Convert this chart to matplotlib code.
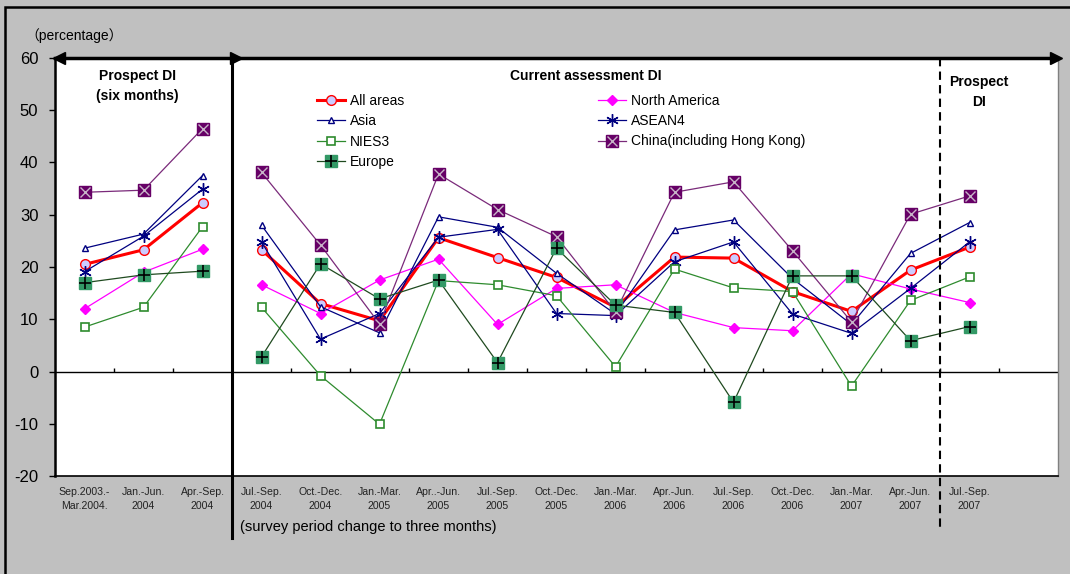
import numpy as np
import matplotlib
matplotlib.use("Agg")
import matplotlib.pyplot as plt
import matplotlib.patches as patches
from matplotlib.legend_handler import HandlerTuple

plt.rcParams['font.family'] = ['Liberation Sans', 'Noto Sans CJK JP', 'DejaVu Sans']
plt.rcParams['axes.unicode_minus'] = False

# survey periods (x categories)
periods = ["Sep.2003.-\nMar.2004.", "Jan.-Jun.\n2004", "Apr.-Sep.\n2004",
           "Jul.-Sep.\n2004", "Oct.-Dec.\n2004", "Jan.-Mar.\n2005", "Apr..-Jun.\n2005",
           "Jul.-Sep.\n2005", "Oct.-Dec.\n2005", "Jan.-Mar.\n2006", "Apr.-Jun.\n2006",
           "Jul.-Sep.\n2006", "Oct.-Dec.\n2006", "Jan.-Mar.\n2007", "Apr.-Jun.\n2007",
           "Jul.-Sep.\n2007"]

all_areas = [20.5, 23.3, 32.3, 23.3, 13.0, 9.7, 25.6, 21.8, 18.0, 12.3, 21.9, 21.7, 15.3, 11.5, 19.4, 23.8]
north_america = [12.0, 19.0, 23.4, 16.6, 11.1, 17.5, 21.5, 9.0, 15.9, 16.6, 11.3, 8.4, 7.8, 18.7, 15.8, 13.2]
asia = [23.6, 26.3, 37.5, 28.0, 12.4, 7.4, 29.6, 27.6, 18.8, 11.0, 27.1, 29.0, 17.8, 9.0, 22.6, 28.5]
asean4 = [19.1, 25.9, 34.9, 24.8, 6.2, 11.1, 25.7, 27.2, 11.1, 10.7, 21.0, 24.8, 11.0, 7.3, 15.9, 24.8]
nies3 = [8.5, 12.3, 27.7, 12.3, -0.8, -10.1, 17.4, 16.6, 14.5, 0.9, 19.6, 16.0, 15.3, -2.8, 13.6, 18.1]
china = [34.3, 34.7, 46.5, 38.1, 24.2, 9.1, 37.8, 31.0, 25.8, 11.4, 34.3, 36.3, 23.1, 9.5, 30.1, 33.6]
europe = [17.0, 18.5, 19.2, 2.8, 20.6, 13.9, 17.5, 1.7, 23.6, 12.7, 11.3, -5.9, 18.3, 18.3, 5.9, 8.6]

W, H = 1070, 574
fig = plt.figure(figsize=(W / 100, H / 100), dpi=100)
fig.patch.set_facecolor('#C0C0C0')
fig.patches.append(patches.Rectangle((5 / W, -0.1), 1.2, 1.1 - 7 / H, transform=fig.transFigure,
                                     fill=False, edgecolor='black', lw=1.8))

ax = fig.add_axes([55 / W, 1 - 476 / H, (1058 - 55) / W, (476 - 58) / H])
ax.set_facecolor('white')

x = np.arange(len(periods), dtype=float)


def split(v):
    # break the line between the six-month and three-month surveys
    return np.insert(x, 3, np.nan), np.insert(np.array(v, dtype=float), 3, np.nan)


xs, ys = split(all_areas)
h_all, = ax.plot(xs, ys, color='red', lw=2.2, marker='o', ms=7, mfc='#CCCCFF', mec='red', mew=1, zorder=2)
xs, ys = split(north_america)
h_na, = ax.plot(xs, ys, color='#FF00FF', lw=0.9, marker='D', ms=5, mfc='#FF00FF', mec='#FF00FF', zorder=3)
xs, ys = split(asia)
h_asia, = ax.plot(xs, ys, color='#000080', lw=0.9, marker='^', ms=5, mfc='white', mec='#000080', mew=1, zorder=4)
xs, ys = split(asean4)
h_asean, = ax.plot(xs, ys, color='#000080', lw=0.9, marker=(6, 2, 0), ms=9, mec='#000080', mew=1, zorder=5)
xs, ys = split(nies3)
h_nies, = ax.plot(xs, ys, color='#2E8B2E', lw=0.9, marker='s', ms=6, mfc='white', mec='#2E8B2E', mew=1.2, zorder=6)
xs, ys = split(china)
h_cn1, = ax.plot(xs, ys, color='#7A2A7A', lw=0.9, marker='s', ms=9, mfc='#660066', mec='#660066', zorder=7)
h_cn2, = ax.plot(xs, ys, ls='none', marker='x', ms=7, mec='#C8B4C8', mew=1, zorder=7)
xs, ys = split(europe)
h_eu1, = ax.plot(xs, ys, color='#1F4A1F', lw=0.9, marker='s', ms=9, mfc='#339966', mec='#339966', zorder=8)
h_eu2, = ax.plot(xs, ys, ls='none', marker='+', ms=8, mec='black', mew=1.2, zorder=8)

ax.set_xlim(-0.5, 16.5)
ax.set_ylim(-20, 60)
ax.set_yticks(np.arange(-20, 61, 10))
ax.tick_params(axis='y', labelsize=12, length=4, width=1, pad=8, direction='out')
ax.set_xticks(x)
ax.set_xticklabels(periods, fontsize=7.6, linespacing=1.5, color='#222222')
ax.tick_params(axis='x', length=0, pad=8)

# zero line with category ticks
ax.axhline(0, color='black', lw=1, zorder=1)
ax.vlines(np.arange(0.5, 16.5, 1), 0, 0.7, color='black', lw=1, zorder=1)

ax.spines['top'].set_visible(False)
ax.spines['left'].set_linewidth(1.8)
ax.spines['bottom'].set_linewidth(1.2)
ax.spines['right'].set_color('#808080')
ax.spines['right'].set_linewidth(1)

# arrow along the top
ax.plot([-0.5, 16.45], [60, 60], color='black', lw=2.5, clip_on=False, zorder=10)
ax.plot([-0.43], [60], marker='<', ms=9, color='black', clip_on=False, zorder=10)
ax.plot([2.56], [60], marker='>', ms=9, color='black', clip_on=False, zorder=10)
ax.plot([16.46], [60], marker='>', ms=9, color='black', clip_on=False, zorder=10)

# dividers
trans = ax.get_xaxis_transform()
ax.plot([2.5, 2.5], [1, -0.148], color='black', lw=2.2, transform=trans, clip_on=False, zorder=10)
ax.plot([14.5, 14.5], [1, -0.13], color='black', lw=1.5, ls=(0, (4, 2.5)), transform=trans,
        clip_on=False, zorder=10)

# section titles
ax.text(137.5 / W, 1 - 86 / H, "Prospect DI\n(six months)", transform=fig.transFigure, ha='center',
        va='center', fontsize=10, fontweight='bold', linespacing=1.55)
ax.text(586 / W, 1 - 76 / H, "Current assessment DI", transform=fig.transFigure, ha='center',
        va='center', fontsize=10, fontweight='bold')
ax.text(979 / W, 1 - 92 / H, "Prospect\nDI", transform=fig.transFigure, ha='center',
        va='center', fontsize=10, fontweight='bold', linespacing=1.55)

fig.text(25 / W, 1 - 36 / H, "（percentage）", fontsize=10, va='center', ha='left')
fig.text(240 / W, 1 - 527 / H, "(survey period change to three months)", fontsize=10.5, va='center', ha='left')

leg = ax.legend([h_all, h_asia, h_nies, (h_eu1, h_eu2), h_na, h_asean, (h_cn1, h_cn2)],
                ["All areas", "Asia", "NIES3", "Europe", "North America", "ASEAN4",
                 "China(including Hong Kong)"],
                handler_map={tuple: HandlerTuple(ndivide=1)},
                ncol=2, loc='upper left', bbox_to_anchor=(317 / W, 1 - 94 / H),
                bbox_transform=fig.transFigure, frameon=False, fontsize=10, numpoints=1,
                handlelength=2.0, handletextpad=0.35, labelspacing=0.45, columnspacing=14.0,
                borderpad=0, borderaxespad=0)
leg.set_zorder(11)

fig.savefig("out.png", dpi=100, facecolor=fig.get_facecolor())
